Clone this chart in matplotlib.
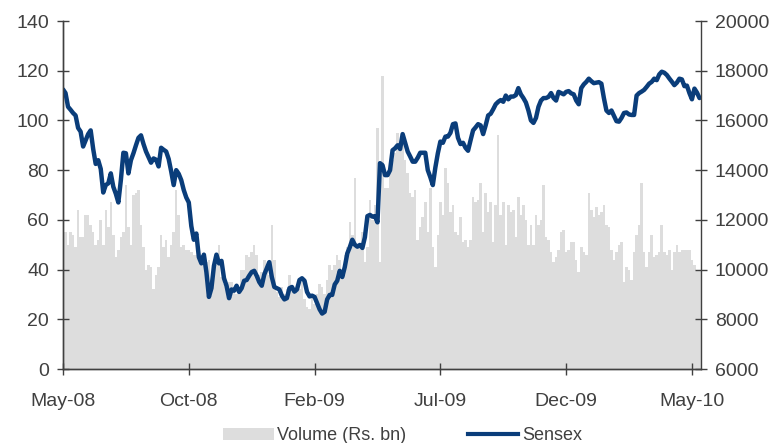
import numpy as np
import matplotlib.pyplot as plt
from matplotlib.patches import Patch
from matplotlib.lines import Line2D

plt.rcParams['font.family'] = ['Liberation Sans', 'DejaVu Sans']

# every second trading day, May-08 .. May-10
volume = [
    70, 55, 50, 55, 54, 49, 64, 53, 53, 62,
    62, 58, 55, 50, 52, 60, 50, 64, 57, 67,
    54, 45, 48, 53, 55, 74, 57, 50, 70, 71,
    72, 58, 49, 40, 42, 41, 32, 38, 41, 54,
    49, 52, 45, 50, 55, 72, 62, 49, 50, 48,
    48, 47, 46, 46, 44, 44, 45, 43, 44, 36,
    41, 42, 50, 37, 34, 33, 35, 35, 31, 30,
    32, 40, 40, 46, 45, 47, 50, 46, 38, 39,
    44, 42, 38, 58, 44, 31, 29, 33, 30, 32,
    38, 33, 30, 31, 32, 35, 28, 25, 24, 30,
    26, 30, 34, 33, 30, 36, 42, 40, 42, 46,
    44, 38, 46, 49, 59, 54, 77, 50, 49, 55,
    43, 49, 68, 60, 66, 97, 43, 118, 73, 73,
    80, 84, 87, 95, 91, 94, 84, 79, 71, 69,
    72, 52, 57, 61, 67, 55, 73, 49, 41, 54,
    67, 62, 81, 75, 63, 66, 55, 54, 61, 51,
    52, 49, 52, 69, 67, 68, 75, 55, 71, 63,
    67, 51, 66, 94, 62, 67, 50, 66, 63, 64,
    53, 69, 62, 66, 60, 50, 58, 50, 62, 58,
    60, 74, 53, 52, 47, 43, 45, 48, 55, 56,
    47, 48, 51, 51, 44, 39, 49, 47, 46, 71,
    64, 61, 65, 62, 63, 66, 58, 57, 48, 44,
    47, 50, 51, 35, 41, 40, 36, 47, 54, 58,
    75, 47, 41, 47, 54, 45, 46, 47, 58, 47,
    46, 48, 40, 47, 50, 47, 48, 48, 48, 48,
    44, 42, 40, 40,
]

sensex = [
    17250, 17100, 16550, 16430, 16300, 16200, 15700, 15550, 14950, 15200,
    15450, 15600, 14850, 14250, 14400, 14050, 13100, 13400, 13470, 13870,
    13330, 13050, 12700, 13600, 14700, 14680, 13870, 14400, 14680, 15000,
    15300, 15400, 15050, 14750, 14520, 14300, 14470, 14420, 14150, 14900,
    14820, 14750, 14450, 13950, 13400, 14000, 13850, 13600, 13200, 12900,
    12700, 11750, 11200, 11450, 10500, 10250, 10600, 9900, 8900, 9250,
    10150, 10600, 10250, 10350, 9650, 9350, 8850, 9200, 9150, 9350,
    9100, 9250, 9550, 9580, 9750, 9900, 9950, 9750, 9500, 9350,
    9800, 10050, 10300, 9700, 9300, 9250, 9200, 8950, 8800, 8850,
    9250, 9300, 9110, 9200, 9580, 9650, 9550, 9100, 8920, 8950,
    8900, 8650, 8400, 8230, 8300, 8800, 8980, 8980, 9400, 9550,
    9950, 9700, 10100, 10650, 10900, 11200, 11000, 10920, 10990, 10870,
    11300, 12150, 12200, 12130, 12150, 11900, 14280, 14200, 13800, 13800,
    14000, 14800, 14880, 15000, 14850, 15450, 15100, 14750, 14550, 14340,
    14340, 14500, 14700, 14700, 14700, 14000, 13720, 13400, 14100, 14680,
    15150, 15100, 15350, 15350, 15500, 15850, 15880, 15300, 15050, 15100,
    14900, 14780, 15200, 15600, 15720, 15850, 15800, 15450, 15800, 16200,
    16270, 16450, 16650, 16750, 16820, 16750, 17000, 16850, 16960, 16960,
    17020, 17300, 17050, 16900, 16720, 16400, 16000, 15900, 16100, 16550,
    16800, 16900, 16900, 16950, 17100, 16900, 16800, 17150, 17100, 17050,
    17150, 17180, 17090, 17050, 16800, 16650, 17300, 17450, 17550, 17680,
    17580, 17500, 17520, 17540, 17480, 16900, 16400, 16300, 16400, 16180,
    15970, 15950, 16100, 16300, 16320, 16240, 16220, 16220, 17000, 17100,
    17160, 17230, 17350, 17480, 17550, 17680, 17620, 17850, 17960, 17920,
    17830, 17690, 17560, 17420, 17520, 17680, 17650, 17380, 17400, 17100,
    16850, 17280, 17120, 16900,
]

tick_pos = [0, 50, 100, 150, 200, 250]
tick_labels = ['May-08', 'Oct-08', 'Feb-09', 'Jul-09', 'Dec-09', 'May-10']

bar_col = '#dddddd'
line_col = '#0a3d7a'
txt_col = '#404040'

fig = plt.figure(figsize=(7.8, 4.43), dpi=100)
ax = fig.add_axes([63/780, 1-369/443, (701-63)/780, (369-21)/443])
ax2 = ax.twinx()

x = np.arange(len(volume))
ax.bar(x, volume, width=1.0, color=bar_col, linewidth=0)
ax2.plot(np.arange(len(sensex)), sensex, color=line_col, lw=3.2,
         solid_joinstyle='round', solid_capstyle='round')

ax.set_xlim(0, 253.6)
ax.set_ylim(0, 140)
ax.set_yticks(range(0, 141, 20))
ax2.set_ylim(6000, 20000)
ax2.set_yticks(range(6000, 20001, 2000))
ax.set_xticks(tick_pos)
ax.set_xticklabels(tick_labels)

for a in (ax, ax2):
    a.spines['top'].set_visible(False)
    for s in ('left', 'right', 'bottom'):
        a.spines[s].set_color(txt_col)
        a.spines[s].set_linewidth(1.0)
ax.spines['right'].set_visible(False)

ax.tick_params(axis='y', direction='inout', length=8, width=1, color=txt_col,
               labelsize=14, labelcolor=txt_col, pad=6)
ax.tick_params(axis='x', direction='inout', length=8, width=1, color=txt_col,
               labelsize=14, labelcolor=txt_col, pad=13)
ax2.tick_params(axis='y', direction='inout', length=8, width=1, color=txt_col,
                labelsize=14, labelcolor=txt_col, pad=6)

handles = [Patch(facecolor=bar_col, edgecolor='none', label='Volume (Rs. bn)'),
           Line2D([], [], color=line_col, lw=3, label='Sensex')]
fig.legend(handles=handles, loc='lower center', bbox_to_anchor=(0.516, -0.04),
           ncol=2, frameon=False, fontsize=13, handlelength=2.8,
           columnspacing=3.4, handletextpad=0.2, labelcolor=txt_col)

fig.savefig('out.png', dpi=100)
